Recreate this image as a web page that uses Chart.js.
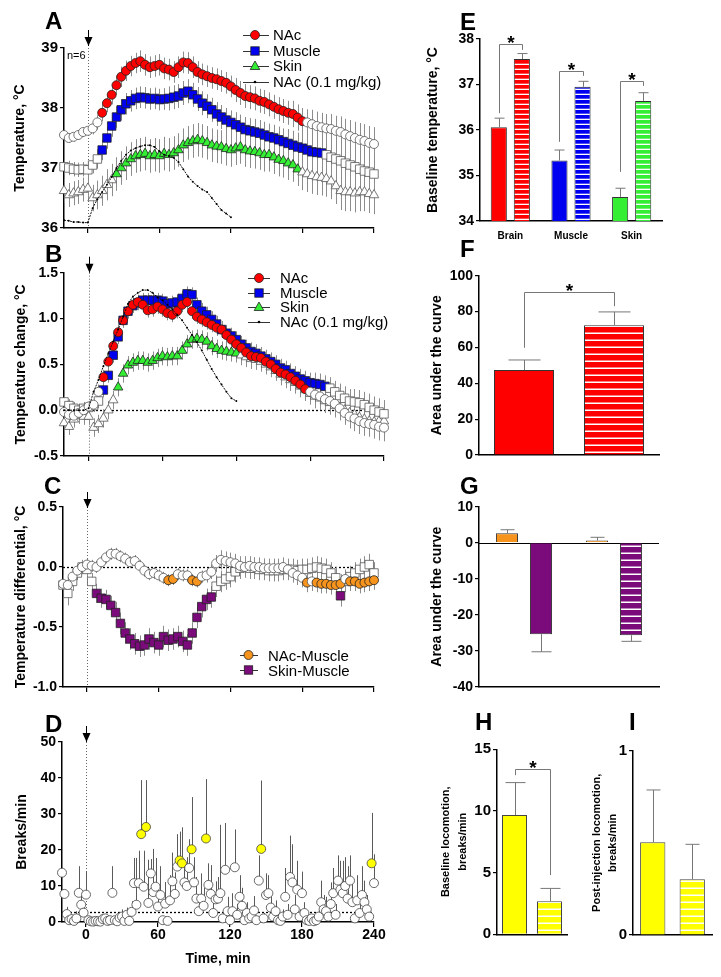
<!DOCTYPE html>
<html>
<head>
<meta charset="utf-8">
<title>Temperature and locomotion</title>
<script src="https://cdn.jsdelivr.net/npm/chart.js@4.4.1/dist/chart.umd.min.js"></script>
<style>
  html, body { margin: 0; padding: 0; background: #fff; }
  body { position: relative; width: 721px; height: 977px; overflow: hidden; font-family: "Liberation Sans", Arial, sans-serif; color: #000; }
  canvas { position: absolute; }
  .letter { position: absolute; font-weight: bold; font-size: 24px; line-height: 1; }
  .legend { position: absolute; font-size: 15px; }
  .legend div { display: flex; align-items: center; white-space: nowrap; }
  .legend svg { flex: none; }
  .note { position: absolute; font-size: 11px; line-height: 1; }
</style>
</head>
<body>
<canvas id="cA" width="395" height="240" style="left:0;top:0"></canvas>
<canvas id="cB" width="395" height="240" style="left:0;top:230px"></canvas>
<canvas id="cC" width="395" height="230" style="left:0;top:470px"></canvas>
<canvas id="cD" width="395" height="267" style="left:0;top:710px"></canvas>
<canvas id="cE" width="301" height="250" style="left:420px;top:0"></canvas>
<canvas id="cF" width="301" height="220" style="left:420px;top:250px"></canvas>
<canvas id="cG" width="301" height="230" style="left:420px;top:470px"></canvas>
<canvas id="cH" width="150" height="277" style="left:420px;top:700px"></canvas>
<canvas id="cI" width="151" height="277" style="left:570px;top:700px"></canvas>

<div class="letter" style="left:45px;top:8.6px">A</div>
<div class="letter" style="left:45px;top:242px">B</div>
<div class="letter" style="left:44px;top:473.6px">C</div>
<div class="letter" style="left:45px;top:712px">D</div>
<div class="letter" style="left:460px;top:10.2px">E</div>
<div class="letter" style="left:460px;top:237px">F</div>
<div class="letter" style="left:460px;top:474.2px">G</div>
<div class="letter" style="left:475px;top:710.2px">H</div>
<div class="letter" style="left:629px;top:710.2px">I</div>
<div class="note" style="left:67px;top:50px">n=6</div>

<div class="legend" id="legA" style="left:243px;top:27.25px"></div>
<div class="legend" id="legB" style="left:248px;top:271px"></div>
<div class="legend" id="legC" style="left:240px;top:647.5px"></div>

<script>
// ---- time grids (min) ----
const timeA = [-20,-16,-12,-8,-4,0,4,8,12,16,20,24,28,32,36,40,44,48,52,56,60,64,68,72,76,80,84,88,92,96,100,104,108,112,116,120,124,128,132,136,140,144,148,152,156,160,164,168,172,176,180,184,188,192,196,200,204,208,212,216,220,224,228,232,236,240];
const timeLow = timeA.slice(0, 36);
const timeD = [-20,-18,-16,-14,-12,-10,-8,-6,-4,-2,
  0,2,4,6,8,10,12,14,16,18, 20,22,24,26,28,30,32,34,36,38,
  40,42,44,46,48,50,52,54,56,58, 60,62,64,66,68,70,72,74,76,78,
  80,82,84,86,88,90,92,94,96,98, 100,102,104,106,108,110,112,114,116,118,
  120,122,124,126,128,130,132,134,136,138, 140,142,144,146,148,150,152,154,156,158,
  160,162,164,166,168,170,172,174,176,178, 180,182,184,186,188,190,192,194,196,198,
  200,202,204,206,208,210,212,214,216,218, 220,222,224,226,228,230,232,234,236,238, 240];
const timeTicks = [0, 60, 120, 180, 240];

// ---- A: absolute temperature ----
const nacA = [37.55,37.50,37.52,37.55,37.60,37.62,37.66,37.76,37.92,38.08,38.22,
  38.38,38.52,38.62,38.70,38.75,38.78,38.72,38.68,38.70,38.72,38.66,
  38.64,38.60,38.68,38.76,38.75,38.68,38.60,38.56,38.53,38.50,38.48,
  38.45,38.42,38.36,38.30,38.25,38.20,38.18,38.16,38.12,38.10,38.06,
  38.02,37.98,37.95,37.92,37.90,37.84,37.78,37.76,37.73,37.70,37.68,
  37.66,37.65,37.62,37.60,37.56,37.53,37.50,37.47,37.45,37.42,37.40];
const nacErrA = [.08,.08,.08,.08,.08,.08,.10,.12,.14,.15,.16,
  .16,.17,.17,.17,.17,.18,.18,.18,.18,.18,.18,
  .18,.18,.18,.18,.18,.18,.18,.18,.18,.18,.18,
  .18,.18,.18,.20,.20,.20,.20,.20,.20,.20,.20,
  .20,.20,.20,.20,.22,.22,.22,.22,.24,.24,.24,
  .24,.25,.25,.26,.26,.27,.27,.28,.28,.28,.28];
const muscleA = [37.02,37.00,36.98,36.97,36.98,36.97,37.05,37.15,37.30,37.50,37.70,
  37.85,37.97,38.07,38.12,38.16,38.18,38.17,38.15,38.16,38.14,38.15,
  38.16,38.18,38.20,38.25,38.28,38.22,38.15,38.08,38.03,37.97,37.90,
  37.85,37.80,37.76,37.72,37.68,37.64,37.62,37.60,37.58,37.55,37.52,
  37.50,37.47,37.44,37.41,37.38,37.35,37.33,37.30,37.27,37.26,37.25,
  37.22,37.18,37.15,37.12,37.08,37.05,37.02,36.98,36.95,36.93,36.90];
const muscleErrA = [.12,.12,.12,.12,.12,.12,.14,.16,.17,.18,.18,
  .18,.18,.18,.18,.18,.18,.18,.18,.18,.18,.18,
  .20,.20,.20,.20,.20,.20,.20,.20,.20,.20,.20,
  .20,.20,.20,.21,.21,.21,.21,.22,.22,.22,.22,
  .22,.22,.22,.24,.24,.24,.25,.25,.25,.26,.26,
  .26,.27,.27,.28,.28,.28,.30,.30,.30,.30,.30];
const skinA = [36.62,36.55,36.58,36.60,36.64,36.66,36.50,36.55,36.62,36.72,36.80,
  36.90,37.00,37.08,37.15,37.20,37.22,37.24,37.20,37.22,37.20,37.24,
  37.22,37.25,37.30,37.38,37.42,37.45,37.47,37.45,37.42,37.38,37.36,
  37.35,37.32,37.30,37.33,37.35,37.30,37.28,37.27,37.25,37.22,37.22,
  37.18,37.14,37.12,37.08,37.05,36.98,36.93,36.90,36.87,36.85,36.84,
  36.82,36.78,36.70,36.62,36.60,36.60,36.58,36.60,36.60,36.57,36.55];
const skinErrA = [.20,.20,.20,.20,.20,.20,.22,.24,.25,.26,.27,
  .28,.28,.28,.28,.28,.28,.28,.28,.28,.28,.28,
  .28,.28,.28,.28,.28,.28,.28,.28,.28,.28,.28,
  .28,.28,.28,.28,.28,.28,.28,.28,.28,.28,.28,
  .28,.28,.28,.28,.28,.28,.30,.30,.30,.30,.30,
  .30,.30,.30,.32,.32,.32,.32,.32,.32,.32,.32];
const lowDoseA = [36.13,36.12,36.10,36.10,36.09,36.09,36.33,36.48,36.60,36.72,36.85,
  37.00,37.12,37.22,37.29,37.33,37.36,37.38,37.38,37.35,37.28,37.22,
  37.20,37.17,37.10,36.98,36.86,36.77,36.70,36.64,36.60,36.50,36.40,
  36.30,36.24,36.18];
const nacSigA = [12, 180], muscleSigA = [12, 196], skinSigA = [24, 176];

// ---- B: temperature change ----
const nacB = [-0.02,-0.05,-0.06,-0.03,0.00,0.04,0.06,0.20,0.36,0.53,0.70,
  0.85,0.98,1.08,1.15,1.18,1.15,1.09,1.10,1.13,1.10,1.06,
  1.04,1.08,1.15,1.18,1.08,1.02,0.99,0.96,0.93,0.90,0.88,
  0.82,0.77,0.72,0.68,0.63,0.59,0.58,0.57,0.53,0.50,0.45,
  0.41,0.39,0.36,0.32,0.28,0.23,0.20,0.17,0.15,0.12,0.10,
  0.07,0.02,-0.03,-0.07,-0.09,-0.12,-0.14,-0.15,-0.16,-0.18,-0.19];
const nacErrB = [.06,.06,.06,.06,.06,.06,.07,.08,.08,.08,.08,
  .08,.08,.08,.08,.08,.08,.08,.08,.08,.08,.08,
  .08,.08,.08,.08,.08,.08,.08,.08,.08,.09,.09,
  .09,.09,.09,.09,.09,.09,.09,.10,.10,.10,.10,
  .10,.10,.10,.10,.10,.11,.11,.11,.12,.12,.12,
  .12,.13,.13,.13,.14,.14,.14,.14,.15,.15,.15];
const muscleB = [0.09,0.05,0.02,0.00,0.02,0.03,0.05,0.10,0.22,0.38,0.60,
  0.80,0.98,1.08,1.14,1.17,1.20,1.20,1.20,1.20,1.19,1.16,
  1.17,1.18,1.22,1.27,1.26,1.15,1.08,1.04,0.99,0.94,0.88,
  0.84,0.81,0.77,0.72,0.68,0.64,0.62,0.59,0.56,0.53,0.50,
  0.46,0.44,0.40,0.37,0.34,0.32,0.30,0.29,0.28,0.26,0.24,
  0.20,0.16,0.13,0.10,0.09,0.08,0.06,0.03,0.00,-0.02,-0.04];
const muscleErrB = [.07,.07,.07,.07,.07,.07,.07,.08,.08,.08,.08,
  .08,.08,.08,.08,.08,.08,.08,.08,.08,.08,.08,
  .08,.08,.08,.08,.08,.08,.09,.09,.09,.09,.09,
  .09,.09,.09,.09,.09,.10,.10,.10,.10,.10,.10,
  .10,.10,.11,.11,.11,.11,.11,.12,.12,.12,.12,
  .12,.13,.13,.13,.14,.14,.14,.15,.15,.15,.15];
const skinB = [-0.14,-0.18,-0.10,-0.06,-0.07,-0.07,-0.19,-0.15,-0.09,0.00,0.11,
  0.25,0.40,0.49,0.52,0.54,0.54,0.52,0.54,0.57,0.59,0.58,
  0.59,0.59,0.65,0.72,0.77,0.78,0.77,0.75,0.70,0.67,0.65,
  0.64,0.63,0.62,0.60,0.58,0.56,0.55,0.53,0.50,0.47,0.43,
  0.39,0.36,0.33,0.30,0.26,0.22,0.18,0.15,0.13,0.10,0.08,
  0.05,0.03,0.00,-0.03,-0.05,-0.08,-0.10,-0.12,-0.13,-0.12,-0.12];
const skinErrB = [.09,.09,.09,.09,.09,.09,.10,.10,.10,.10,.10,
  .10,.10,.10,.10,.10,.10,.10,.10,.10,.10,.10,
  .10,.10,.10,.10,.10,.10,.10,.10,.10,.10,.10,
  .10,.10,.10,.11,.11,.11,.11,.11,.11,.11,.11,
  .12,.12,.12,.12,.12,.12,.12,.13,.13,.13,.13,
  .13,.14,.14,.14,.15,.15,.15,.15,.16,.16,.16];
const lowDoseB = [0.00,0.00,0.00,0.00,0.00,0.02,0.20,0.33,0.48,0.62,0.75,
  0.88,1.02,1.16,1.24,1.28,1.31,1.31,1.28,1.23,1.20,1.15,
  1.10,1.04,0.98,0.90,0.82,0.74,0.65,0.55,0.45,0.36,0.28,
  0.20,0.13,0.10];
const nacSigB = [12, 176], muscleSigB = [12, 192], skinSigB = [24, 120];

// ---- C: temperature differentials ----
const nacMuscleC = [-0.14,-0.15,-0.08,-0.03,0.00,0.02,0.01,0.00,0.04,0.08,0.11,
  0.11,0.09,0.07,0.04,0.05,0.01,-0.03,-0.06,-0.05,-0.07,-0.09,
  -0.11,-0.10,-0.06,-0.07,-0.07,-0.11,-0.12,-0.08,-0.07,-0.04,0.03,
  0.06,0.05,0.04,0.03,0.01,0.00,0.01,0.00,0.00,-0.01,-0.01,
  -0.01,-0.01,0.00,-0.02,-0.05,-0.07,-0.09,-0.13,-0.12,-0.13,-0.14,
  -0.14,-0.15,-0.15,-0.14,-0.10,-0.12,-0.12,-0.14,-0.13,-0.12,-0.11];
const nacMuscleErrC = [.07,.07,.06,.05,.05,.05,.05,.05,.05,.05,.05,
  .05,.05,.05,.05,.05,.05,.05,.05,.05,.05,.05,
  .05,.05,.05,.05,.05,.05,.05,.05,.06,.06,.07,
  .08,.08,.08,.08,.08,.08,.08,.08,.08,.08,.08,
  .08,.08,.08,.08,.08,.08,.08,.08,.08,.08,.08,
  .08,.08,.08,.08,.08,.08,.08,.08,.08,.08,.08];
const skinMuscleC = [-0.15,-0.22,-0.12,-0.05,0.00,-0.02,-0.12,-0.22,-0.26,-0.27,-0.32,
  -0.38,-0.47,-0.55,-0.60,-0.64,-0.66,-0.65,-0.60,-0.63,-0.65,-0.58,
  -0.61,-0.60,-0.58,-0.62,-0.65,-0.55,-0.42,-0.33,-0.27,-0.25,-0.16,
  -0.12,-0.10,-0.08,-0.04,-0.01,0.00,-0.01,-0.01,-0.02,-0.02,-0.03,
  -0.03,-0.03,-0.02,-0.02,-0.02,-0.03,-0.02,-0.02,-0.01,0.00,-0.01,
  -0.02,-0.05,-0.09,-0.24,-0.12,-0.08,-0.05,-0.02,0.00,0.02,-0.05];
const skinMuscleErrC = [.08,.10,.08,.06,.06,.06,.07,.08,.08,.08,.08,
  .09,.09,.09,.09,.09,.09,.09,.09,.09,.09,.09,
  .09,.09,.09,.09,.09,.09,.09,.09,.09,.09,.09,
  .09,.09,.09,.09,.09,.09,.09,.09,.09,.09,.09,
  .09,.09,.09,.09,.09,.09,.09,.09,.09,.09,.09,
  .09,.09,.09,.09,.09,.09,.09,.09,.09,.09,.09];
const nacMuscleSigTimes = [68,72,88,92,184,192,196,200,204,208,212,220,224,228,232,236,240];
const skinMuscleSigTimes = [8,12,16,20,24,28,32,36,40,44,48,52,56,60,64,68,72,76,80,84,88,92,96,100,104,212];

// ---- D: locomotion (breaks/min) ----
const locoD = [13.7,7.8,2.2,0.5,0.8,0.3,1.0,8.1,4.8,2.6,
  7.6,0.5,0.2,0.1,0.3,0.2,0.1,0.8,1.0,0.3,
  0.5,8.1,0.5,0.2,1.2,1.5,0.3,2.0,0.3,2.8,
  10.8,4.8,10.8,24.4,9.8,26.4,5.3,13.5,8.3,9.8,
  4.3,7.5,0.5,5.1,0.3,6.0,11.3,7.8,15.4,17.1,
  16.3,11.0,10.0,15.0,20.2,11.0,6.5,3.0,6.5,4.5,
  23.2,10.3,7.8,2.5,6.3,6.5,8.0,1.0,14.5,3.0,
  0.5,3.0,15.2,2.0,7.0,4.5,0.5,2.5,1.0,1.5,
  3.2,0.5,11.5,20.3,1.0,7.5,8.0,4.0,1.5,3.0,
  0.5,0.3,1.5,7.0,2.0,12.5,11.0,3.5,9.0,1.5,
  8.0,2.5,0.5,0.3,1.0,0.2,0.5,1.5,5.5,3.5,
  3.0,1.5,5.0,8.0,2.0,11.5,9.0,8.0,10.0,6.5,
  11.5,5.5,1.0,6.0,2.5,7.5,5.5,3.5,1.5,16.3,
  10.8];
const locoErrD = [0.5,1,2,0.5,1,0.5,2,7.4,4,2,
  6.4,0.5,0.3,0.3,0.5,0.3,0.3,1,1,0.5,
  1,7.4,1,0.5,1.5,2,0.5,2,0.5,3,
  7,13,9,15,10,13,12,4,12,8,
  5,8,1,6,0.5,7,8,6,9,8,
  10,6,8,8,14.5,7,6,4,7,5,
  16.5,6,8,3,5,6,19,1.5,13,4,
  1,5,10.5,3,6,5,1,3,1,2,
  4,1,7,19,1.5,6,5,4,2,3,
  1,0.5,2,8,3,11.5,10.6,4,8,2,
  6,3,1,0.5,1,0.5,1,2,6,4,
  4,2,6,7,3,7,8,9,8,9,
  7,6,1.5,7,3,8,6,4,2,14,
  8];
const locoSigTimes = [46,50,78,80,88,100,146,238];
const locoBaseline = 2.7;

// ---- E: baseline temperatures ----
const tissueLabels = ['Brain', 'Muscle', 'Skin'];
const tissueColors = ['#ff0000', '#0000f0', '#33ee33'];
const baselineSolid = [36.06, 35.33, 34.53];
const baselineSolidErr = [0.20, 0.23, 0.19];
const baselineStriped = [37.56, 36.95, 36.64];
const baselineStripedErr = [0.12, 0.12, 0.18];
const bracketsE = [[36.37, 37.88, 37.76], [35.74, 37.30, 37.19], [35.08, 37.08, 36.97]];

// ---- F: area under curve (NAc) ----
const groupLabels = ['solid', 'striped'];
const aucNac = [47.4, 72.3];
const aucNacErr = [5.6, 7.5];
const bracketF = [59.8, 91, 83];

// ---- G: area under curve (differentials) ----
const aucNacMuscle = [2.6, 0.6];
const aucNacMuscleErr = [1.0, 0.9];
const aucSkinMuscle = [-25.4, -25.7];
const aucSkinMuscleErr = [4.9, 1.7];

// ---- H, I: locomotion ----
const locoBaselineBars = [9.67, 2.67];
const locoBaselineErr = [2.63, 1.05];
const bracketH = [12.9, 13.4, 4.8];
const locoPostBars = [0.503, 0.302];
const locoPostErr = [0.284, 0.19];

// ---------------------------------------------------------------
Chart.defaults.font.family = "'Liberation Sans', Arial, sans-serif";
Chart.defaults.color = '#000';
Chart.defaults.animation = false;
Chart.defaults.responsive = false;
Chart.defaults.events = [];
Chart.defaults.plugins.legend.display = false;
Chart.defaults.plugins.tooltip.enabled = false;

const ORANGE = '#f7941d', PURPLE = '#7b0a7b', YELLOW = '#ffff00';

function pts(xs, ys) { return ys.map((y, i) => ({ x: xs[i], y })); }
const inRange = r => t => t >= r[0] && t <= r[1];
const inList = l => t => l.includes(t);

function stripes(color, period, line) {
  const c = document.createElement('canvas');
  c.width = 8; c.height = period;
  const g = c.getContext('2d');
  g.fillStyle = color; g.fillRect(0, 0, 8, period);
  g.fillStyle = '#fff'; g.fillRect(0, period - line, 8, line);
  return g.createPattern(c, 'repeat');
}

// error bars drawn through the y scale of each dataset
function drawErrors(chart, onTop) {
  const ctx = chart.ctx;
  chart.data.datasets.forEach((ds, di) => {
    if (!ds.errors || !!ds.errorsOnTop !== onTop) return;
    const meta = chart.getDatasetMeta(di);
    const ys = chart.scales[meta.yAxisID];
    ctx.save();
    ctx.strokeStyle = ds.errorColor || '#8a8a8a';
    ctx.lineWidth = ds.errorWidth || 1;
    ctx.beginPath();
    meta.data.forEach((el, i) => {
      const raw = ds.data[i];
      const v = typeof raw === 'object' ? raw.y : raw;
      const e = ds.errors[i];
      if (v == null || !e) return;
      const x = Math.round(el.x) + 0.5;
      if (ds.errorMode === 'bar') {
        const dir = v >= 0 ? 1 : -1;
        const y0 = ys.getPixelForValue(v), y1 = ys.getPixelForValue(v + dir * e);
        ctx.moveTo(x, y0); ctx.lineTo(x, y1);
        const c = ds.capWidth / 2;
        ctx.moveTo(x - c, y1); ctx.lineTo(x + c, y1);
      } else if (ds.errorMode === 'up') {
        ctx.moveTo(x, ys.getPixelForValue(v)); ctx.lineTo(x, ys.getPixelForValue(v + e));
      } else {
        ctx.moveTo(x, ys.getPixelForValue(v - e)); ctx.lineTo(x, ys.getPixelForValue(v + e));
      }
    });
    ctx.stroke();
    ctx.restore();
  });
}
const errorBarPlugin = {
  id: 'errorBars',
  beforeDatasetsDraw(chart) { drawErrors(chart, false); },
  afterDatasetsDraw(chart) { drawErrors(chart, true); }
};

// significance brackets with a star
const bracketPlugin = {
  id: 'brackets',
  afterDatasetsDraw(chart, args, opts) {
    if (!opts.items) return;
    const ys = chart.scales.y, ctx = chart.ctx;
    opts.items.forEach(b => {
      const xa = Math.round(chart.getDatasetMeta(b.from[0]).data[b.from[1]].x) + 0.5;
      const xb = Math.round(chart.getDatasetMeta(b.to[0]).data[b.to[1]].x) + 0.5;
      const ya = ys.getPixelForValue(b.levels[0]);
      const yt = Math.round(ys.getPixelForValue(b.levels[1])) + 0.5;
      const yb = ys.getPixelForValue(b.levels[2]);
      ctx.save();
      ctx.strokeStyle = '#777'; ctx.lineWidth = 1;
      ctx.beginPath(); ctx.moveTo(xa, ya); ctx.lineTo(xa, yt); ctx.lineTo(xb, yt); ctx.lineTo(xb, yb); ctx.stroke();
      ctx.fillStyle = '#000';
      ctx.font = "bold 19px 'Liberation Sans', Arial";
      ctx.textAlign = 'center'; ctx.textBaseline = 'alphabetic';
      ctx.fillText('*', (xa + xb) / 2, yt + 4);
      ctx.restore();
    });
  }
};

// injection arrow, dotted t=0 line and dotted horizontal reference
const timeMarksPlugin = {
  id: 'timeMarks',
  beforeDatasetsDraw(chart, args, opts) {
    const { ctx, chartArea: a, scales: { x, y } } = chart;
    const x0 = Math.round(x.getPixelForValue(0)) + 0.5;
    ctx.save();
    ctx.strokeStyle = '#666'; ctx.lineWidth = 1; ctx.setLineDash([1, 2]);
    ctx.beginPath(); ctx.moveTo(x0, a.top); ctx.lineTo(x0, a.bottom); ctx.stroke();
    if (opts.hLine != null) {
      const yh = Math.round(y.getPixelForValue(opts.hLine)) + 0.5;
      ctx.strokeStyle = '#000'; ctx.lineWidth = 1.3; ctx.setLineDash([2, 2]);
      ctx.beginPath(); ctx.moveTo(a.left, yh); ctx.lineTo(a.right, yh); ctx.stroke();
    }
    ctx.setLineDash([]);
    const tip = a.top + (opts.tipShift || 0);
    ctx.strokeStyle = '#000'; ctx.lineWidth = 1;
    ctx.beginPath(); ctx.moveTo(x0, tip - 16); ctx.lineTo(x0, tip); ctx.stroke();
    ctx.fillStyle = '#000';
    ctx.beginPath(); ctx.moveTo(x0 - 4, tip - 9); ctx.lineTo(x0 + 4, tip - 9); ctx.lineTo(x0, tip); ctx.closePath(); ctx.fill();
    ctx.restore();
  }
};

const zeroLinePlugin = {
  id: 'zeroLine',
  beforeDatasetsDraw(chart) {
    const { ctx, chartArea: a, scales: { y } } = chart;
    const y0 = Math.round(y.getPixelForValue(0)) + 0.5;
    ctx.save(); ctx.strokeStyle = '#000'; ctx.lineWidth = 1.2;
    ctx.beginPath(); ctx.moveTo(a.left, y0); ctx.lineTo(a.right, y0); ctx.stroke();
    ctx.restore();
  }
};

function timeAxis(height, showLabels) {
  return {
    type: 'linear', min: -20, max: 240,
    afterBuildTicks: s => { s.ticks = timeTicks.map(v => ({ value: v })); },
    afterFit: s => { s.height = height; },
    grid: { drawOnChartArea: false, drawTicks: true, tickLength: 5, color: '#000', lineWidth: 1.2 },
    border: { display: true, color: '#000', width: 1.5 },
    ticks: { display: showLabels, font: { size: 14, weight: 'bold' }, padding: 0, maxRotation: 0 },
    title: showLabels ? { display: true, text: 'Time, min', font: { size: 14, weight: 'bold' }, padding: { top: 0, bottom: 9.6 } } : { display: false }
  };
}

function valueAxis(o) {
  return {
    type: 'linear', min: o.min, max: o.max,
    afterFit: s => { s.width = o.width; },
    ticks: { stepSize: o.step, font: { size: o.tickSize || 14, weight: 'bold' }, padding: 2, callback: o.fmt || (v => v) },
    grid: { drawOnChartArea: false, tickLength: 4, color: '#000', lineWidth: 1.2 },
    border: { color: '#000', width: 1.5 },
    title: { display: true, text: o.title, font: { size: o.titleSize || 14, weight: 'bold', lineHeight: o.titleLH || 1.2 }, padding: { top: o.titlePad, bottom: 0 } }
  };
}

function catAxis(height, labels) {
  return {
    type: 'category',
    afterFit: s => { s.height = height; },
    grid: { display: false },
    border: { display: true, color: '#000', width: 1.5 },
    ticks: { display: !!labels, font: { size: 10, weight: 'bold' }, padding: 1 }
  };
}

function markerSet(times, vals, errs, style, radius, color, isSig) {
  return {
    data: pts(times, vals), errors: errs, errorMode: 'both', errorColor: '#8c8c8c',
    pointStyle: style, pointRadius: radius, pointBorderWidth: 0.8,
    pointBackgroundColor: times.map(t => isSig(t) ? color : '#fff'),
    pointBorderColor: times.map(t => isSig(t) ? '#222' : '#555'),
    showLine: false, clip: false
  };
}
function lowDoseSet(vals) {
  return { data: pts(timeLow, vals), showLine: true, borderColor: '#111', borderWidth: 1, borderDash: [2, 1],
           pointRadius: 1, pointBackgroundColor: '#000', pointBorderWidth: 0, clip: false };
}

// ---- A ----
new Chart(document.getElementById('cA'), {
  type: 'scatter',
  data: { datasets: [
    lowDoseSet(lowDoseA),
    markerSet(timeA, nacA, nacErrA, 'circle', 4.5, '#ff0000', inRange(nacSigA)),
    markerSet(timeA, muscleA, muscleErrA, 'rect', 6, '#0000f0', inRange(muscleSigA)),
    markerSet(timeA, skinA, skinErrA, 'triangle', 5.5, '#33ee33', inRange(skinSigA))
  ]},
  options: {
    layout: { padding: { top: 48, right: 21, left: 0, bottom: 0 } },
    scales: {
      x: timeAxis(12, false),
      y: valueAxis({ min: 36, max: 39, step: 1, width: 64, title: 'Temperature, °C', titlePad: 11.6, tickSize: 15 })
    },
    plugins: { timeMarks: { hLine: null, tipShift: -2 } }
  },
  plugins: [timeMarksPlugin, errorBarPlugin]
});

// ---- B ----
new Chart(document.getElementById('cB'), {
  type: 'scatter',
  data: { datasets: [
    lowDoseSet(lowDoseB),
    markerSet(timeA, nacB, nacErrB, 'circle', 4.5, '#ff0000', inRange(nacSigB)),
    markerSet(timeA, muscleB, muscleErrB, 'rect', 6, '#0000f0', inRange(muscleSigB)),
    markerSet(timeA, skinB, skinErrB, 'triangle', 5.5, '#33ee33', inRange(skinSigB))
  ]},
  options: {
    layout: { padding: { top: 42.7, right: 11, left: 0, bottom: 0 } },
    scales: {
      x: timeAxis(14, false),
      y: valueAxis({ min: -0.5, max: 1.5, step: 0.5, width: 64, title: 'Temperature change, °C', titlePad: 13, fmt: v => v.toFixed(1) })
    },
    plugins: { timeMarks: { hLine: 0, tipShift: 0 } }
  },
  plugins: [timeMarksPlugin, errorBarPlugin]
});

// ---- C ----
new Chart(document.getElementById('cC'), {
  type: 'scatter',
  data: { datasets: [
    markerSet(timeA, nacMuscleC, nacMuscleErrC, 'circle', 4.5, ORANGE, inList(nacMuscleSigTimes)),
    markerSet(timeA, skinMuscleC, skinMuscleErrC, 'rect', 6, PURPLE, inList(skinMuscleSigTimes))
  ]},
  options: {
    layout: { padding: { top: 37, right: 21, left: 0, bottom: 0 } },
    scales: {
      x: timeAxis(13, false),
      y: valueAxis({ min: -1, max: 0.5, step: 0.5, width: 63, title: 'Temperature differential, °C', titlePad: 12.4, fmt: v => v.toFixed(1) })
    },
    plugins: { timeMarks: { hLine: 0, tipShift: 1 } }
  },
  plugins: [timeMarksPlugin, errorBarPlugin]
});

// ---- D ----
new Chart(document.getElementById('cD'), {
  type: 'scatter',
  data: { datasets: [{
    data: pts(timeD, locoD), errors: locoErrD, errorMode: 'up', errorColor: '#5a5a5a',
    pointStyle: 'circle', pointRadius: 4.5, pointBorderWidth: 0.8,
    pointBackgroundColor: timeD.map(t => locoSigTimes.includes(t) ? YELLOW : '#fff'),
    pointBorderColor: '#444', showLine: false, clip: false
  }]},
  options: {
    layout: { padding: { top: 32, right: 21, left: 0, bottom: 0 } },
    scales: {
      x: timeAxis(55, true),
      y: valueAxis({ min: 0, max: 50, step: 10, width: 62, title: 'Breaks/min', titlePad: 14 })
    },
    plugins: { timeMarks: { hLine: locoBaseline, tipShift: 0 } }
  },
  plugins: [timeMarksPlugin, errorBarPlugin]
});

// ---- E ----
new Chart(document.getElementById('cE'), {
  type: 'bar',
  data: { labels: tissueLabels, datasets: [
    { data: baselineSolid, errors: baselineSolidErr, errorMode: 'bar', errorsOnTop: true, capWidth: 10, errorColor: '#777',
      backgroundColor: tissueColors, borderColor: '#333', borderWidth: 1, categoryPercentage: 0.76, barPercentage: 0.7 },
    { data: baselineStriped, errors: baselineStripedErr, errorMode: 'bar', errorsOnTop: true, capWidth: 10, errorColor: '#777',
      backgroundColor: tissueColors.map(c => stripes(c, 5, 1.3)), borderColor: '#333', borderWidth: 1, categoryPercentage: 0.76, barPercentage: 0.7 }
  ]},
  options: {
    layout: { padding: { top: 39, right: 59, left: 0, bottom: 0 } },
    scales: {
      x: catAxis(29, true),
      y: valueAxis({ min: 34, max: 38, step: 1, width: 60, title: 'Baseline temperature, °C', titlePad: 4.6 })
    },
    plugins: { brackets: { items: bracketsE.map((lv, i) => ({ from: [0, i], to: [1, i], levels: lv })) } }
  },
  plugins: [errorBarPlugin, bracketPlugin]
});

// ---- F ----
new Chart(document.getElementById('cF'), {
  type: 'bar',
  data: { labels: groupLabels, datasets: [
    { data: aucNac, errors: aucNacErr, errorMode: 'bar', errorsOnTop: true, capWidth: 32, errorColor: '#777',
      backgroundColor: ['#ff0000', stripes('#ff0000', 7, 1.5)], borderColor: '#333', borderWidth: 1,
      categoryPercentage: 1, barPercentage: 0.667 }
  ]},
  options: {
    layout: { padding: { top: 25.7, right: 62, left: 0, bottom: 0 } },
    scales: {
      x: catAxis(15, false),
      y: valueAxis({ min: 0, max: 100, step: 20, width: 59, title: 'Area under the curve', titlePad: 8.6 })
    },
    plugins: { brackets: { items: [{ from: [0, 0], to: [0, 1], levels: bracketF }] } }
  },
  plugins: [errorBarPlugin, bracketPlugin]
});

// ---- G ----
new Chart(document.getElementById('cG'), {
  type: 'bar',
  data: { labels: groupLabels, datasets: [
    { data: aucNacMuscle, errors: aucNacMuscleErr, errorMode: 'bar', errorsOnTop: true, capWidth: 14, errorColor: '#777',
      backgroundColor: [ORANGE, stripes(ORANGE, 7, 1.5)], borderColor: '#333', borderWidth: 1,
      categoryPercentage: 0.756, barPercentage: 0.65 },
    { data: aucSkinMuscle, errors: aucSkinMuscleErr, errorMode: 'bar', errorsOnTop: true, capWidth: 20, errorColor: '#777',
      backgroundColor: [PURPLE, stripes(PURPLE, 7, 1.5)], borderColor: '#333', borderWidth: 1,
      categoryPercentage: 0.756, barPercentage: 0.65 }
  ]},
  options: {
    layout: { padding: { top: 36.7, right: 62, left: 0, bottom: 0 } },
    scales: {
      x: catAxis(13.3, false),
      y: valueAxis({ min: -40, max: 10, step: 10, width: 59, title: 'Area under the curve', titlePad: 8.6 })
    }
  },
  plugins: [zeroLinePlugin, errorBarPlugin]
});

// ---- H ----
new Chart(document.getElementById('cH'), {
  type: 'bar',
  data: { labels: groupLabels, datasets: [
    { data: locoBaselineBars, errors: locoBaselineErr, errorMode: 'bar', errorsOnTop: true, capWidth: 20, errorColor: '#777',
      backgroundColor: [YELLOW, stripes(YELLOW, 7, 1.5)], borderColor: '#444', borderWidth: 1,
      categoryPercentage: 1, barPercentage: 0.714 }
  ]},
  options: {
    layout: { padding: { top: 49.3, right: 3, left: 0, bottom: 0 } },
    scales: {
      x: catAxis(42.7, false),
      y: valueAxis({ min: 0, max: 15, step: 5, width: 77, title: ['Baseline locomotion,', 'breaks/min'], titlePad: 17, titleSize: 11, titleLH: 1.6, tickSize: 15 })
    },
    plugins: { brackets: { items: [{ from: [0, 0], to: [0, 1], levels: bracketH }] } }
  },
  plugins: [errorBarPlugin, bracketPlugin]
});

// ---- I ----
new Chart(document.getElementById('cI'), {
  type: 'bar',
  data: { labels: groupLabels, datasets: [
    { data: locoPostBars, errors: locoPostErr, errorMode: 'bar', errorsOnTop: true, capWidth: 14, errorColor: '#777',
      backgroundColor: [YELLOW, stripes(YELLOW, 7, 1.5)], borderColor: '#444', borderWidth: 1,
      categoryPercentage: 1, barPercentage: 0.64 }
  ]},
  options: {
    layout: { padding: { top: 50.7, right: 9, left: 0, bottom: 0 } },
    scales: {
      x: catAxis(42, false),
      y: valueAxis({ min: 0, max: 1, step: 1, width: 63, title: ['Post-injection locomotion,', 'breaks/min'], titlePad: 19, titleSize: 11, titleLH: 1.45, tickSize: 15 })
    }
  },
  plugins: [errorBarPlugin]
});

// ---- HTML legends ----
function markerSvg(shape, fill, w, cx) {
  let m = '';
  if (shape === 'circle') m = `<circle cx="${cx}" cy="7" r="4.5" fill="${fill}" stroke="#222" stroke-width="0.8"/>`;
  if (shape === 'rect') m = `<rect x="${cx - 4.2}" y="2.8" width="8.4" height="8.4" fill="${fill}" stroke="#222" stroke-width="0.8"/>`;
  if (shape === 'triangle') m = `<polygon points="${cx},2 ${cx + 4.8},10.5 ${cx - 4.8},10.5" fill="${fill}" stroke="#222" stroke-width="0.8"/>`;
  if (shape === 'dot') m = `<circle cx="${cx}" cy="7" r="1.3" fill="#000"/>`;
  return `<svg width="${w}" height="14"><line x1="0" y1="7.5" x2="${w}" y2="7.5" stroke="#333" stroke-width="1"/>${m}</svg>`;
}
function buildLegend(id, items, w, cx, gap, rowH) {
  document.getElementById(id).innerHTML = items.map(it =>
    `<div style="height:${rowH}px;line-height:${rowH}px">${markerSvg(it[1], it[2], w, cx)}<span style="margin-left:${gap}px">${it[0]}</span></div>`).join('');
}
const legendTemp = [['NAc', 'circle', '#ff0000'], ['Muscle', 'rect', '#0000f0'], ['Skin', 'triangle', '#33ee33'], ['NAc (0.1 mg/kg)', 'dot', '#000']];
buildLegend('legA', legendTemp, 26, 12, 4, 15.5);
buildLegend('legB', legendTemp, 22, 11, 10, 14.5);
buildLegend('legC', [['NAc-Muscle', 'circle', ORANGE], ['Skin-Muscle', 'rect', PURPLE]], 18, 8.5, 10, 15);
</script>
</body>
</html>
